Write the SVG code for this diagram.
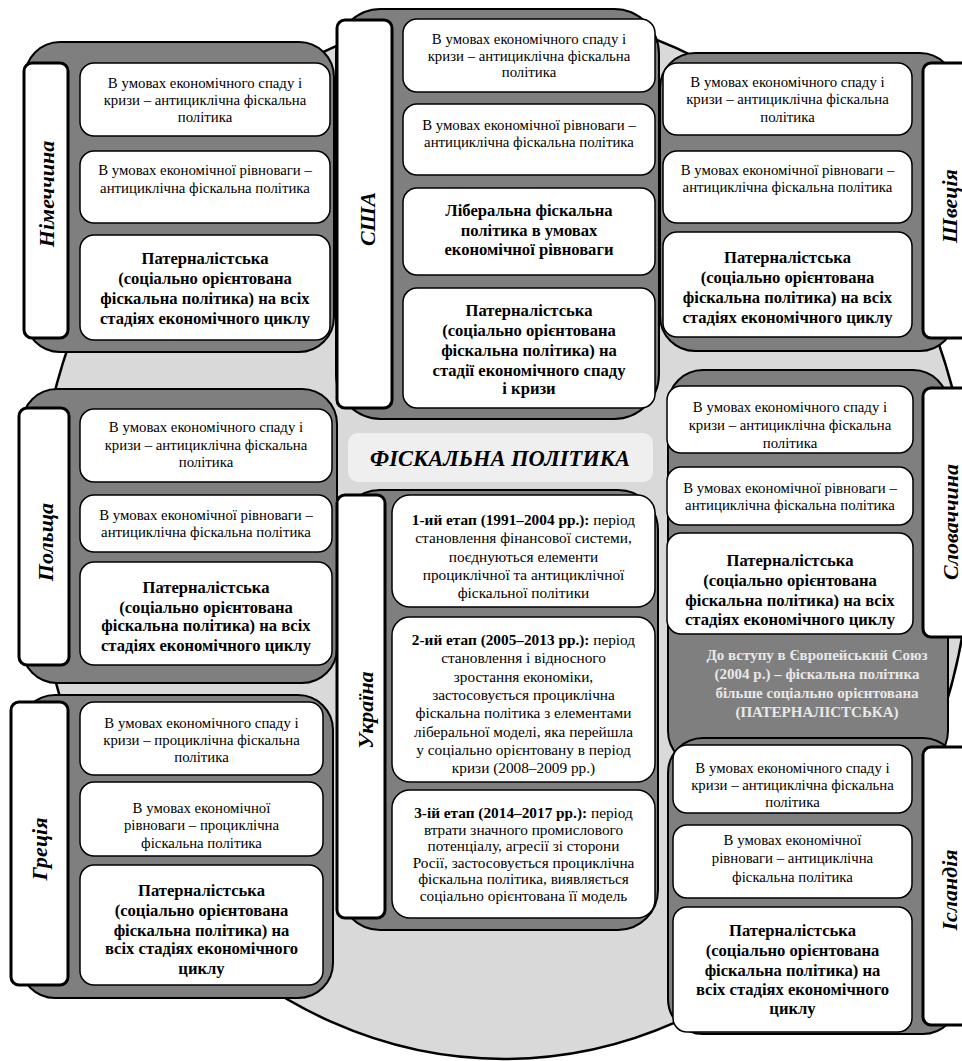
<svg xmlns="http://www.w3.org/2000/svg" width="962" height="1061" viewBox="0 0 962 1061">
<style>
.ell{fill:#d9d9d9;stroke:#000;stroke-width:2.5}
.panel{fill:#7f7f7f;stroke:#000;stroke-width:2}
.box{fill:#fff;stroke:#000;stroke-width:1.5}
.lab{fill:#fff;stroke:#000;stroke-width:3}
.t{font-family:"Liberation Serif","Times New Roman",serif;font-size:14.8px;text-anchor:middle;fill:#000}
.u{font-size:15.3px}
.b{font-weight:bold;font-size:16.6px}
.bb{font-weight:bold}
.L{font-family:"Liberation Serif","Times New Roman",serif;font-size:22px;font-weight:bold;font-style:italic;text-anchor:middle;fill:#000}
.note{font-family:"Liberation Serif","Times New Roman",serif;font-size:15px;font-weight:bold;text-anchor:middle;fill:#e8e8e8}
</style>
<ellipse class="ell" cx="504" cy="535" rx="467" ry="524"/>

<g id="germany">
<rect class="panel" x="25" y="42" width="309" height="310" rx="35"/>
<rect class="lab" x="24" y="63" width="44" height="275" rx="8"/>
<text class="L" transform="translate(54,194) rotate(-90)">Німеччина</text>
<rect class="box" x="80" y="63" width="250" height="73" rx="14"/>
<text class="t" x="205" y="88">В умовах економічного спаду і</text>
<text class="t" x="205" y="105">кризи – антициклічна  фіскальна</text>
<text class="t" x="205" y="122">політика</text>
<rect class="box" x="80" y="151" width="250" height="72" rx="14"/>
<text class="t" x="205" y="175">В умовах економічної рівноваги –</text>
<text class="t" x="205" y="193">антициклічна фіскальна політика</text>
<rect class="box" x="80" y="235" width="250" height="105" rx="14"/>
<text class="t b" x="205" y="264">Патерналістська</text>
<text class="t b" x="205" y="284">(соціально орієнтована</text>
<text class="t b" x="205" y="304">фіскальна політика) на всіх</text>
<text class="t b" x="205" y="324">стадіях економічного циклу</text>
</g>

<g id="usa">
<rect class="panel" x="336" y="9" width="323" height="410" rx="45"/>
<rect class="lab" x="337" y="20" width="55" height="388" rx="8"/>
<text class="L" transform="translate(375,219) rotate(-90)">США</text>
<rect class="box" x="403" y="19" width="252" height="73" rx="14"/>
<text class="t" x="529" y="44">В умовах економічного спаду і</text>
<text class="t" x="529" y="61">кризи – антициклічна фіскальна</text>
<text class="t" x="529" y="77">політика</text>
<rect class="box" x="403" y="104" width="252" height="71" rx="14"/>
<text class="t" x="529" y="130">В умовах економічної рівноваги –</text>
<text class="t" x="529" y="147">антициклічна фіскальна політика</text>
<rect class="box" x="403" y="188" width="252" height="87" rx="14"/>
<text class="t b" x="529" y="216">Ліберальна фіскальна</text>
<text class="t b" x="529" y="236">політика в умовах</text>
<text class="t b" x="529" y="255">економічної рівноваги</text>
<rect class="box" x="403" y="288" width="252" height="120" rx="14"/>
<text class="t b" x="529" y="316">Патерналістська</text>
<text class="t b" x="529" y="336">(соціально орієнтована</text>
<text class="t b" x="529" y="356">фіскальна політика) на</text>
<text class="t b" x="529" y="376">стадії економічного спаду</text>
<text class="t b" x="529" y="394">і кризи</text>
</g>

<g id="sweden">
<rect class="panel" x="660" y="53" width="295" height="298" rx="35"/>
<rect class="lab" x="923" y="63" width="62" height="275" rx="8"/>
<text class="L" transform="translate(957,206) rotate(-90)">Швеція</text>
<rect class="box" x="663" y="63" width="249" height="72" rx="14"/>
<text class="t" x="787.5" y="87">В умовах економічного спаду і</text>
<text class="t" x="787.5" y="104">кризи – антициклічна  фіскальна</text>
<text class="t" x="787.5" y="122">політика</text>
<rect class="box" x="663" y="151" width="249" height="72" rx="14"/>
<text class="t" x="787.5" y="175">В умовах економічної рівноваги –</text>
<text class="t" x="787.5" y="192">антициклічна фіскальна політика</text>
<rect class="box" x="663" y="232" width="249" height="105" rx="14"/>
<text class="t b" x="787.5" y="263">Патерналістська</text>
<text class="t b" x="787.5" y="283">(соціально орієнтована</text>
<text class="t b" x="787.5" y="303">фіскальна політика) на всіх</text>
<text class="t b" x="787.5" y="323">стадіях економічного циклу</text>
</g>

<g id="poland">
<rect class="panel" x="22" y="389" width="315" height="294" rx="35"/>
<rect class="lab" x="19" y="408" width="50" height="257" rx="8"/>
<text class="L" transform="translate(53,542) rotate(-90)">Польща</text>
<rect class="box" x="80" y="409" width="252" height="73" rx="14"/>
<text class="t" x="206" y="432">В умовах економічного спаду і</text>
<text class="t" x="206" y="450">кризи – антициклічна  фіскальна</text>
<text class="t" x="206" y="467">політика</text>
<rect class="box" x="80" y="495" width="252" height="57" rx="14"/>
<text class="t" x="206" y="520">В умовах економічної рівноваги –</text>
<text class="t" x="206" y="537">антициклічна фіскальна політика</text>
<rect class="box" x="80" y="562" width="252" height="103" rx="14"/>
<text class="t b" x="206" y="593">Патерналістська</text>
<text class="t b" x="206" y="613">(соціально орієнтована</text>
<text class="t b" x="206" y="631">фіскальна політика) на всіх</text>
<text class="t b" x="206" y="651">стадіях економічного циклу</text>
</g>

<g id="greece">
<rect class="panel" x="20" y="695" width="313" height="303" rx="35"/>
<rect class="lab" x="11" y="702" width="57" height="283" rx="8"/>
<text class="L" transform="translate(47,849) rotate(-90)">Греція</text>
<rect class="box" x="80" y="702" width="243" height="73" rx="14"/>
<text class="t" x="201.5" y="728">В умовах економічного спаду і</text>
<text class="t" x="201.5" y="745">кризи – проциклічна  фіскальна</text>
<text class="t" x="201.5" y="762">політика</text>
<rect class="box" x="80" y="782" width="243" height="74" rx="14"/>
<text class="t" x="201.5" y="813">В умовах економічної</text>
<text class="t" x="201.5" y="830">рівноваги – проциклічна</text>
<text class="t" x="201.5" y="848">фіскальна політика</text>
<rect class="box" x="80" y="865" width="243" height="120" rx="14"/>
<text class="t b" x="201.5" y="896">Патерналістська</text>
<text class="t b" x="201.5" y="916">(соціально орієнтована</text>
<text class="t b" x="201.5" y="936">фіскальна політика) на</text>
<text class="t b" x="201.5" y="954">всіх стадіях економічного</text>
<text class="t b" x="201.5" y="974">циклу</text>
</g>

<g id="title">
<rect x="348" y="433" width="305" height="49" rx="10" fill="#efefef"/>
<text class="L" x="500" y="466" style="font-size:22.5px">ФІСКАЛЬНА ПОЛІТИКА</text>
</g>

<g id="ukraine">
<rect class="panel" x="340" y="490" width="318" height="440" rx="40"/>
<rect class="lab" x="337" y="495" width="48" height="423" rx="8"/>
<text class="L" transform="translate(373,710) rotate(-90)">Україна</text>
<rect class="box" x="392" y="495" width="263" height="112" rx="18"/>
<text class="t u" x="523.5" y="525"><tspan class="bb">1-ий етап (1991–2004 рр.):</tspan> період</text>
<text class="t u" x="523.5" y="543">становлення фінансової системи,</text>
<text class="t u" x="523.5" y="562">поєднуються елементи</text>
<text class="t u" x="523.5" y="580">проциклічної та антициклічної</text>
<text class="t u" x="523.5" y="598">фіскальної політики</text>
<rect class="box" x="392" y="617" width="263" height="165" rx="18"/>
<text class="t u" x="523.5" y="645"><tspan class="bb">2-ий етап (2005–2013 рр.):</tspan> період</text>
<text class="t u" x="523.5" y="663">становлення і відносного</text>
<text class="t u" x="523.5" y="682">зростання економіки,</text>
<text class="t u" x="523.5" y="700">застосовується проциклічна</text>
<text class="t u" x="523.5" y="718">фіскальна політика з елементами</text>
<text class="t u" x="523.5" y="737">ліберальної моделі, яка перейшла</text>
<text class="t u" x="523.5" y="755">у соціально орієнтовану в період</text>
<text class="t u" x="523.5" y="773">кризи (2008–2009 рр.)</text>
<rect class="box" x="392" y="790" width="263" height="128" rx="18"/>
<text class="t u" x="523.5" y="818"><tspan class="bb">3-ій етап (2014–2017 рр.):</tspan> період</text>
<text class="t u" x="523.5" y="835">втрати значного промислового</text>
<text class="t u" x="523.5" y="851">потенціалу, агресії зі сторони</text>
<text class="t u" x="523.5" y="868">Росії, застосовується проциклічна</text>
<text class="t u" x="523.5" y="884">фіскальна політика, виявляється</text>
<text class="t u" x="523.5" y="901">соціально орієнтована її модель</text>
</g>

<g id="slovakia">
<rect class="panel" x="668" y="370" width="280" height="396" rx="35"/>
<rect class="lab" x="923" y="388" width="62" height="249" rx="8"/>
<text class="L" transform="translate(958,522) rotate(-90)">Словаччина</text>
<rect class="box" x="667" y="386" width="246" height="67" rx="14"/>
<text class="t" x="790" y="412">В умовах економічного спаду і</text>
<text class="t" x="790" y="430">кризи – антициклічна  фіскальна</text>
<text class="t" x="790" y="448">політика</text>
<rect class="box" x="667" y="467" width="246" height="58" rx="14"/>
<text class="t" x="790" y="493">В умовах економічної рівноваги –</text>
<text class="t" x="790" y="510">антициклічна фіскальна політика</text>
<rect class="box" x="667" y="533" width="246" height="101" rx="14"/>
<text class="t b" x="790" y="566">Патерналістська</text>
<text class="t b" x="790" y="586">(соціально орієнтована</text>
<text class="t b" x="790" y="606">фіскальна політика) на всіх</text>
<text class="t b" x="790" y="625">стадіях економічного циклу</text>
<text class="note" x="817" y="660">До вступу в Європейський Союз</text>
<text class="note" x="817" y="679">(2004 р.) – фіскальна політика</text>
<text class="note" x="817" y="698">більше соціально орієнтована</text>
<text class="note" x="817" y="717">(ПАТЕРНАЛІСТСЬКА)</text>
</g>

<g id="iceland">
<rect class="panel" x="668" y="738" width="290" height="296" rx="35"/>
<rect class="lab" x="923" y="747" width="62" height="278" rx="8"/>
<text class="L" transform="translate(957,890) rotate(-90)">Ісландія</text>
<rect class="box" x="673" y="745" width="239" height="68" rx="14"/>
<text class="t" x="792.5" y="773">В умовах економічного спаду і</text>
<text class="t" x="792.5" y="790">кризи – антициклічна  фіскальна</text>
<text class="t" x="792.5" y="807">політика</text>
<rect class="box" x="673" y="825" width="239" height="73" rx="14"/>
<text class="t" x="792.5" y="845">В умовах економічної</text>
<text class="t" x="792.5" y="863">рівноваги – антициклічна</text>
<text class="t" x="792.5" y="882">фіскальна політика</text>
<rect class="box" x="673" y="907" width="239" height="125" rx="14"/>
<text class="t b" x="792.5" y="936">Патерналістська</text>
<text class="t b" x="792.5" y="956">(соціально орієнтована</text>
<text class="t b" x="792.5" y="976">фіскальна політика) на</text>
<text class="t b" x="792.5" y="995">всіх стадіях економічного</text>
<text class="t b" x="792.5" y="1014">циклу</text>
</g>
</svg>
